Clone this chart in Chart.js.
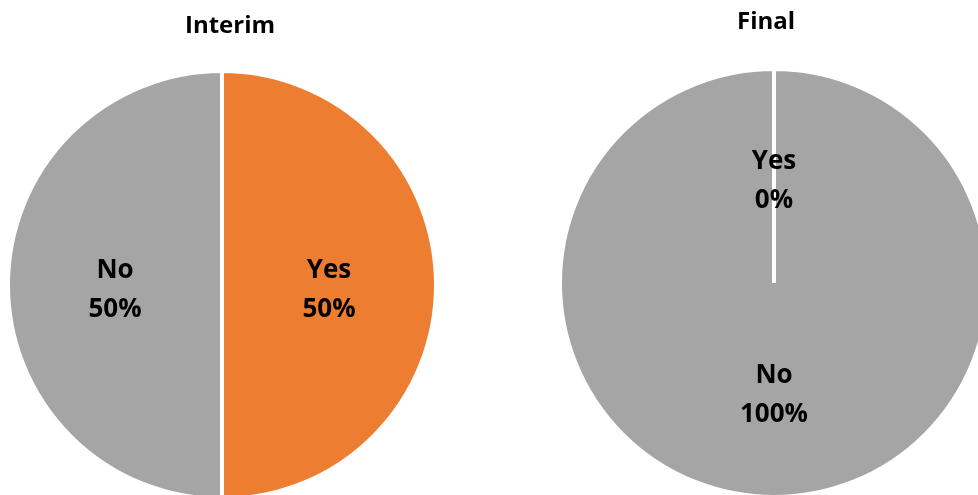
<!DOCTYPE html>
<html>
<head>
<meta charset="utf-8">
<script src="https://cdn.jsdelivr.net/npm/chart.js@4"></script>
<style>
    html, body { margin: 0; padding: 0; background: #fff; overflow: hidden; }
    body { width: 978px; height: 495px; position: relative; }
    .pie-box { position: absolute; top: 0; }
</style>
</head>
<body>
<div class="pie-box" style="left:6px;width:432px;height:501px;"><canvas id="interim_chart"></canvas></div>
<div class="pie-box" style="left:558px;width:432px;height:499px;"><canvas id="final_chart"></canvas></div>
<script>
const categories = ['Yes', 'No']
const interimValues = [50, 50]
const finalValues = [0, 100]
const sliceColors = ['#ED7D31', '#A5A5A5']

// draws the chart title and the "label / percent" text in each slice
const sliceLabels = {
    id: 'sliceLabels',
    afterDraw(chart, args, opts) {
        const ctx = chart.ctx
        const data = chart.data.datasets[0].data
        const total = data.reduce((a, b) => a + b, 0)
        ctx.save()
        ctx.fillStyle = '#000'
        ctx.textAlign = 'center'
        ctx.textBaseline = 'alphabetic'
        ctx.font = 'bold 24px "Open Sans"'
        ctx.fillText(opts.title, opts.titleX, opts.titleY)

        ctx.font = 'bold 26px "Open Sans"'
        chart.getDatasetMeta(0).data.forEach((arc, i) => {
            const mid = (arc.startAngle + arc.endAngle) / 2
            const r = arc.outerRadius * 0.5
            const px = arc.x + Math.cos(mid) * r
            const py = arc.y + Math.sin(mid) * r
            const pct = Math.round(data[i] / total * 100)
            ctx.fillText(chart.data.labels[i], px, py - 7)
            ctx.fillText(`${pct}%`, px, py + 32)
        })
        ctx.restore()
    }
}

function makePie(id, values, title, titleX, titleY, padTop) {
    const canvas = document.getElementById(id).getContext('2d')
    return new Chart(canvas, {
        type: 'pie',
        data: {
            labels: categories,
            datasets: [{
                data: values,
                backgroundColor: sliceColors,
                borderColor: '#fff',
                borderWidth: 4
            }]
        },
        options: {
            responsive: true,
            maintainAspectRatio: false,
            animation: false,
            layout: { padding: { top: padTop, left: 0, right: 0, bottom: 0 } },
            plugins: {
                legend: { display: false },
                tooltip: { enabled: false },
                sliceLabels: { title, titleX, titleY }
            }
        },
        plugins: [sliceLabels]
    })
}

makePie('interim_chart', interimValues, 'Interim', 224, 33, 69)
makePie('final_chart', finalValues, 'Final', 208, 29, 67)
</script>
</body>
</html>
